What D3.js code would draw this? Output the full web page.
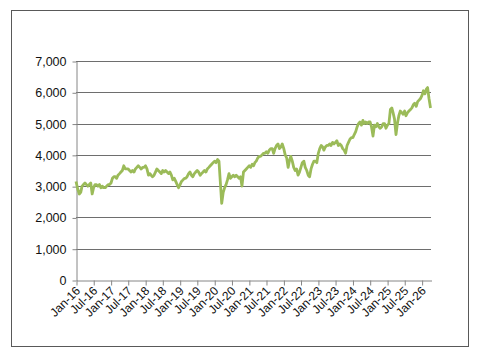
<!DOCTYPE html>
<html>
<head>
<meta charset="utf-8">
<script src="https://cdn.jsdelivr.net/npm/d3@7"></script>
<style>
  body { margin: 0; background: #fff; }
  svg text { font-family: "Liberation Sans", Arial, sans-serif; }
</style>
</head>
<body>
<div id="vis"></div>
<script>
// index level, two readings per month (around the 5th and the 20th), Jan-16 .. Apr-26
const startYear = 2016;
const values = [
  // 2016
  3150, 2900, 2750, 2800, 3000, 3050, 3100, 3050, 3000, 3050, 3100, 2750,
  2950, 3050, 3050, 3000, 3050, 2950, 3000, 2950, 2950, 3000, 3050, 3050,
  // 2017
  3100, 3250, 3300, 3300, 3250, 3350, 3400, 3450, 3500, 3650, 3550, 3550,
  3550, 3500, 3450, 3500, 3450, 3550, 3600, 3650, 3600, 3550, 3600, 3600,
  // 2018
  3650, 3550, 3350, 3400, 3350, 3300, 3350, 3450, 3550, 3500, 3450, 3400,
  3500, 3450, 3500, 3450, 3400, 3450, 3350, 3200, 3250, 3150, 3050, 2950,
  // 2019
  3050, 3150, 3200, 3250, 3250, 3300, 3400, 3450, 3350, 3300, 3400, 3450,
  3500, 3450, 3350, 3400, 3450, 3500, 3450, 3550, 3600, 3650, 3700, 3750,
  // 2020
  3800, 3750, 3850, 3800, 3150, 2450, 2800, 2950, 3050, 3200, 3400, 3250,
  3300, 3350, 3300, 3350, 3300, 3250, 3300, 3000, 3450, 3500, 3550, 3600,
  // 2021
  3650, 3600, 3700, 3650, 3750, 3800, 3900, 3950, 3950, 4000, 4050, 4050,
  4100, 4050, 4150, 4200, 4200, 4050, 4200, 4300, 4350, 4200, 4250, 4350,
  // 2022
  4200, 4000, 3900, 3600, 3800, 3950, 3800, 3600, 3500, 3550, 3350, 3450,
  3600, 3750, 3800, 3600, 3500, 3350, 3300, 3550, 3700, 3800, 3800, 3750,
  // 2023
  4050, 4200, 4300, 4250, 4150, 4250, 4300, 4300, 4350, 4300, 4400, 4350,
  4400, 4450, 4300, 4350, 4300, 4200, 4150, 4050, 4300, 4400, 4500, 4550,
  // 2024
  4550, 4650, 4750, 4900, 5000, 5050, 4950, 5100, 5000, 5050, 5000, 5050,
  5050, 4900, 4600, 4950, 4900, 5000, 4900, 4850, 4900, 5000, 5000, 4850,
  // 2025
  4950, 5000, 5450, 5500, 5350, 5150, 4650, 5000, 5250, 5400, 5350, 5300,
  5400, 5250, 5350, 5400, 5450, 5500, 5600, 5650, 5550, 5700, 5750, 5800,
  // 2026
  5900, 6050, 5950, 6100, 6150, 5800, 5500
];
const yTicks = [0, 1000, 2000, 3000, 4000, 5000, 6000, 7000];
const xTickDates = d3.timeMonth.every(6).range(new Date(2016, 0, 1), new Date(2026, 1, 1));

const W = 479, H = 355;
const margin = {left: 76, right: 48, top: 61, bottom: 75};

const data = values.map((v, i) => ({
  date: new Date(startYear, Math.floor(i / 2), i % 2 ? 20 : 5),
  value: v
}));
data[0].date = new Date(startYear, 0, 1);

const svg = d3.select("#vis")
  .append("svg")
  .attr("width", W)
  .attr("height", H);

svg.append("rect")
  .attr("x", 11.5).attr("y", 10.5)
  .attr("width", 457).attr("height", 336)
  .attr("fill", "none")
  .attr("stroke", "#595959")
  .attr("stroke-width", 1);

const x = d3.scaleTime()
  .domain([new Date(2016, 0, 1), new Date(2026, 3, 10)])
  .range([margin.left, W - margin.right]);

const y = d3.scaleLinear()
  .domain([0, 7000])
  .range([H - margin.bottom, margin.top]);

// gridlines
svg.append("g")
  .selectAll("line")
  .data(yTicks.slice(1))
  .join("line")
  .attr("x1", margin.left)
  .attr("x2", W - margin.right)
  .attr("y1", d => Math.round(y(d)) + 0.5)
  .attr("y2", d => Math.round(y(d)) + 0.5)
  .attr("stroke", "#6e6e6e")
  .attr("stroke-width", 1);

// y axis
const yAxis = d3.axisLeft(y)
  .tickValues(yTicks)
  .tickFormat(d3.format(","))
  .tickSizeInner(4)
  .tickSizeOuter(0)
  .tickPadding(6);

const yg = svg.append("g")
  .attr("transform", "translate(" + (margin.left + 0.5) + ",0.5)")
  .call(yAxis);
yg.selectAll("path, line").attr("stroke", "#868686");
yg.selectAll("text")
  .attr("font-size", 12.5)
  .attr("fill", "#111");

// x axis
const xAxis = d3.axisBottom(x)
  .tickValues(xTickDates)
  .tickFormat(d3.timeFormat("%b-%y"))
  .tickSizeInner(5)
  .tickSizeOuter(0);

const xg = svg.append("g")
  .attr("transform", "translate(0.5," + (Math.round(y(0)) + 0.5) + ")")
  .call(xAxis);
xg.selectAll("path, line").attr("stroke", "#868686");
xg.selectAll("text")
  .attr("font-size", 12)
  .attr("fill", "#111")
  .attr("text-anchor", "end")
  .attr("dy", null)
  .attr("y", 0)
  .attr("transform", "translate(4,11) rotate(-45)");

// series
const line = d3.line()
  .x(d => x(d.date))
  .y(d => y(d.value));

svg.append("path")
  .datum(data)
  .attr("d", line)
  .attr("fill", "none")
  .attr("stroke", "#9bbb59")
  .attr("stroke-width", 2.8)
  .attr("stroke-linejoin", "round");
</script>
</body>
</html>
